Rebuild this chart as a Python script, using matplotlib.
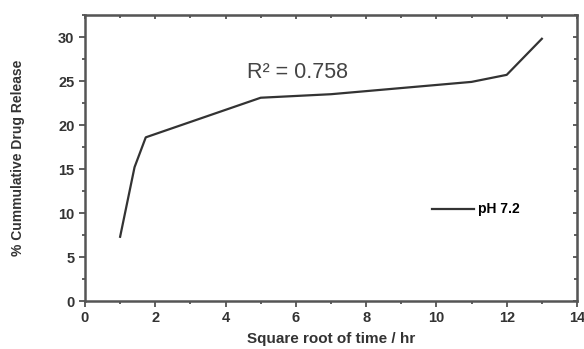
import matplotlib.pyplot as plt
from matplotlib.ticker import MultipleLocator

plt.rcParams['font.family'] = ['Liberation Sans', 'DejaVu Sans']

sqrt_time = [1.0, 1.41, 1.73, 5.0, 7.0, 11.0, 12.0, 13.0]
release = [7.3, 15.2, 18.6, 23.1, 23.5, 24.9, 25.7, 29.8]
series_label = 'pH 7.2'
r2_text = 'R² = 0.758'

fig = plt.figure(figsize=(5.84, 3.49), dpi=100)
ax = fig.add_axes([0.1455, 0.1375, 0.8425, 0.8195])

ax.plot(sqrt_time, release, color='#333333', lw=1.6, label=series_label)

ax.set_xlim(0, 14)
ax.set_ylim(0, 32.5)
ax.xaxis.set_major_locator(MultipleLocator(2))
ax.xaxis.set_minor_locator(MultipleLocator(1))
ax.yaxis.set_major_locator(MultipleLocator(5))
ax.yaxis.set_minor_locator(MultipleLocator(2.5))
ax.tick_params(which='both', direction='out', colors='#444444', width=1.2, labelsize=10.5)
ax.tick_params(which='major', length=4)
ax.tick_params(which='minor', length=2.5)
for lbl in ax.get_xticklabels() + ax.get_yticklabels():
    lbl.set_fontweight('bold')
    lbl.set_color('#333333')

for side in ['top', 'right']:
    sec = ax.secondary_xaxis('top') if side == 'top' else ax.secondary_yaxis('right')
    axis = sec.xaxis if side == 'top' else sec.yaxis
    axis.set_major_locator(MultipleLocator(2 if side == 'top' else 5))
    axis.set_minor_locator(MultipleLocator(1 if side == 'top' else 2.5))
    sec.tick_params(which='both', direction='in', labelleft=False, labelright=False,
                    labeltop=False, colors='#444444', width=1.2)
    sec.tick_params(which='major', length=3)
    sec.tick_params(which='minor', length=2)

for s in ax.spines.values():
    s.set_linewidth(1.8)
    s.set_color('#555555')

ax.set_xlabel('Square root of time / hr', fontsize=11, fontweight='bold', color='#333333', labelpad=5)
ax.set_ylabel('% Cummulative Drug Release', fontsize=10, fontweight='bold', color='#333333', labelpad=24)

ax.text(4.6, 25.3, r2_text, fontsize=15.5, color='#444444')

ax.legend(loc='center left', bbox_to_anchor=(0.68, 0.32), frameon=False, handlelength=3.0,
          handletextpad=0.3, prop={'weight': 'bold', 'size': 10})

fig.savefig('out.png', dpi=100)
